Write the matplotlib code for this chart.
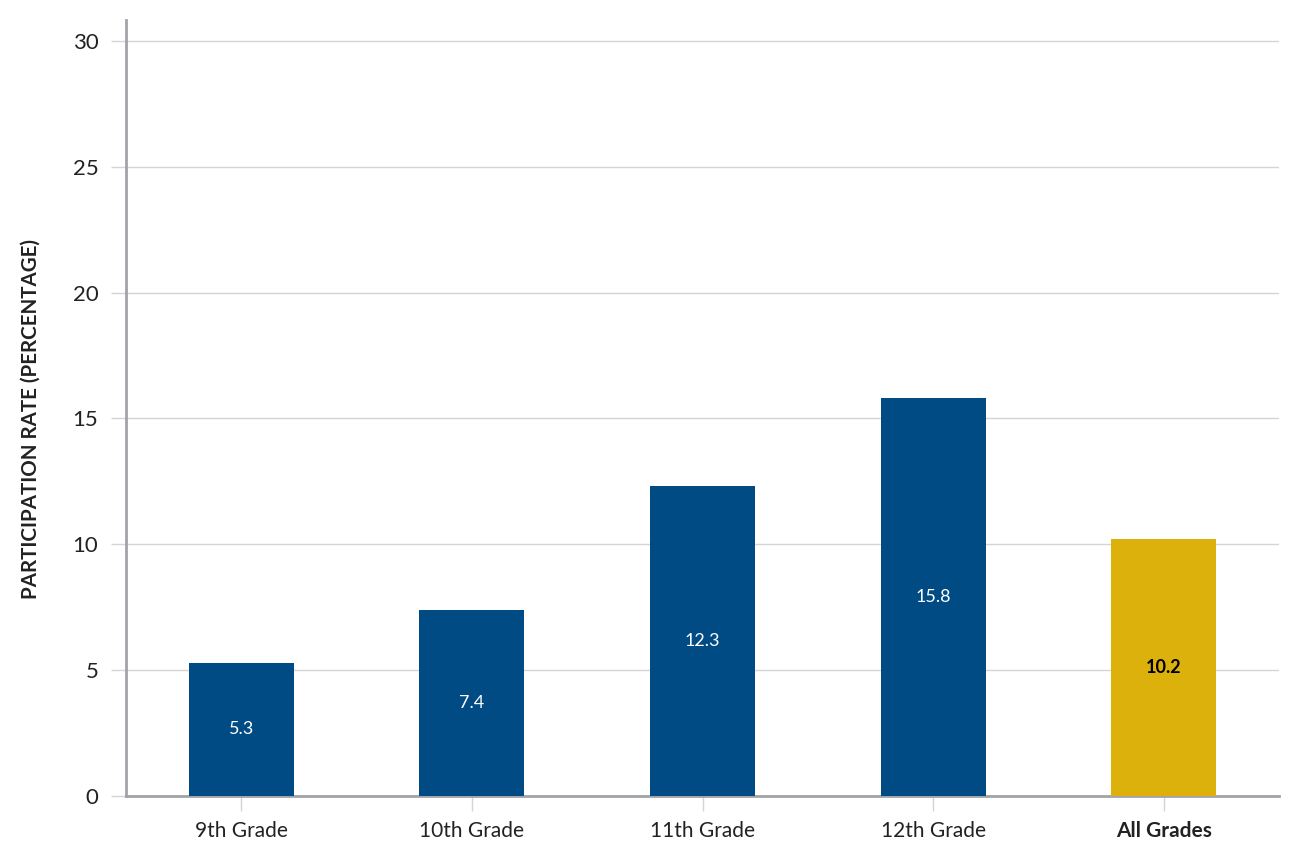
import matplotlib
matplotlib.use('Agg')
import matplotlib.pyplot as plt

categories = ['9th Grade', '10th Grade', '11th Grade', '12th Grade', 'All Grades']
rates = [5.3, 7.4, 12.3, 15.8, 10.2]
y_ticks = [0, 5, 10, 15, 20, 25, 30]

BLUE = '#004b84'
GOLD = '#ddb10c'
SPINE = '#a2a3a8'
GRID = '#d4d4d4'
TEXT = '#222222'

plt.rcParams['font.family'] = ['Lato', 'DejaVu Sans']

fig = plt.figure(figsize=(13, 8.59), dpi=100)
ax = fig.add_axes([0.097, 0.0733, 0.8868, 0.9034])

x = list(range(len(categories)))
colors = [BLUE] * (len(categories) - 1) + [GOLD]
bars = ax.bar(x, rates, width=0.455, color=colors, zorder=3)

# value labels sit at the middle of each bar
for i, (b, v) in enumerate(zip(bars, rates)):
    last = i == len(rates) - 1
    ax.text(b.get_x() + b.get_width() / 2, v / 2, f'{v:.1f}',
            ha='center', va='center', fontsize=13,
            color='black' if last else 'white',
            fontweight='bold' if last else 'normal', zorder=4)

ax.set_xlim(-0.5, 4.5)
ax.set_ylim(0, 30.83)
ax.set_yticks(y_ticks)
ax.set_xticks(x)
ax.set_xticklabels(categories)
ax.get_xticklabels()[-1].set_fontweight('bold')
ax.get_xticklabels()[-1].set_color('black')

ax.grid(axis='y', color=GRID, linewidth=1, zorder=0)
ax.tick_params(axis='y', length=11, color=GRID, width=1, labelsize=16,
               labelcolor=TEXT, pad=9)
ax.tick_params(axis='x', length=11, color=GRID, width=1, labelsize=15,
               labelcolor=TEXT, pad=7)

for side in ('top', 'right'):
    ax.spines[side].set_visible(False)
for side in ('left', 'bottom'):
    ax.spines[side].set_color(SPINE)
    ax.spines[side].set_linewidth(2)

ax.set_ylabel('PARTICIPATION RATE (PERCENTAGE)', fontsize=14.8,
              fontweight='bold', color=TEXT)
ax.yaxis.set_label_coords(-0.074, 0.486)

fig.savefig('out.png', dpi=100, facecolor='white')
